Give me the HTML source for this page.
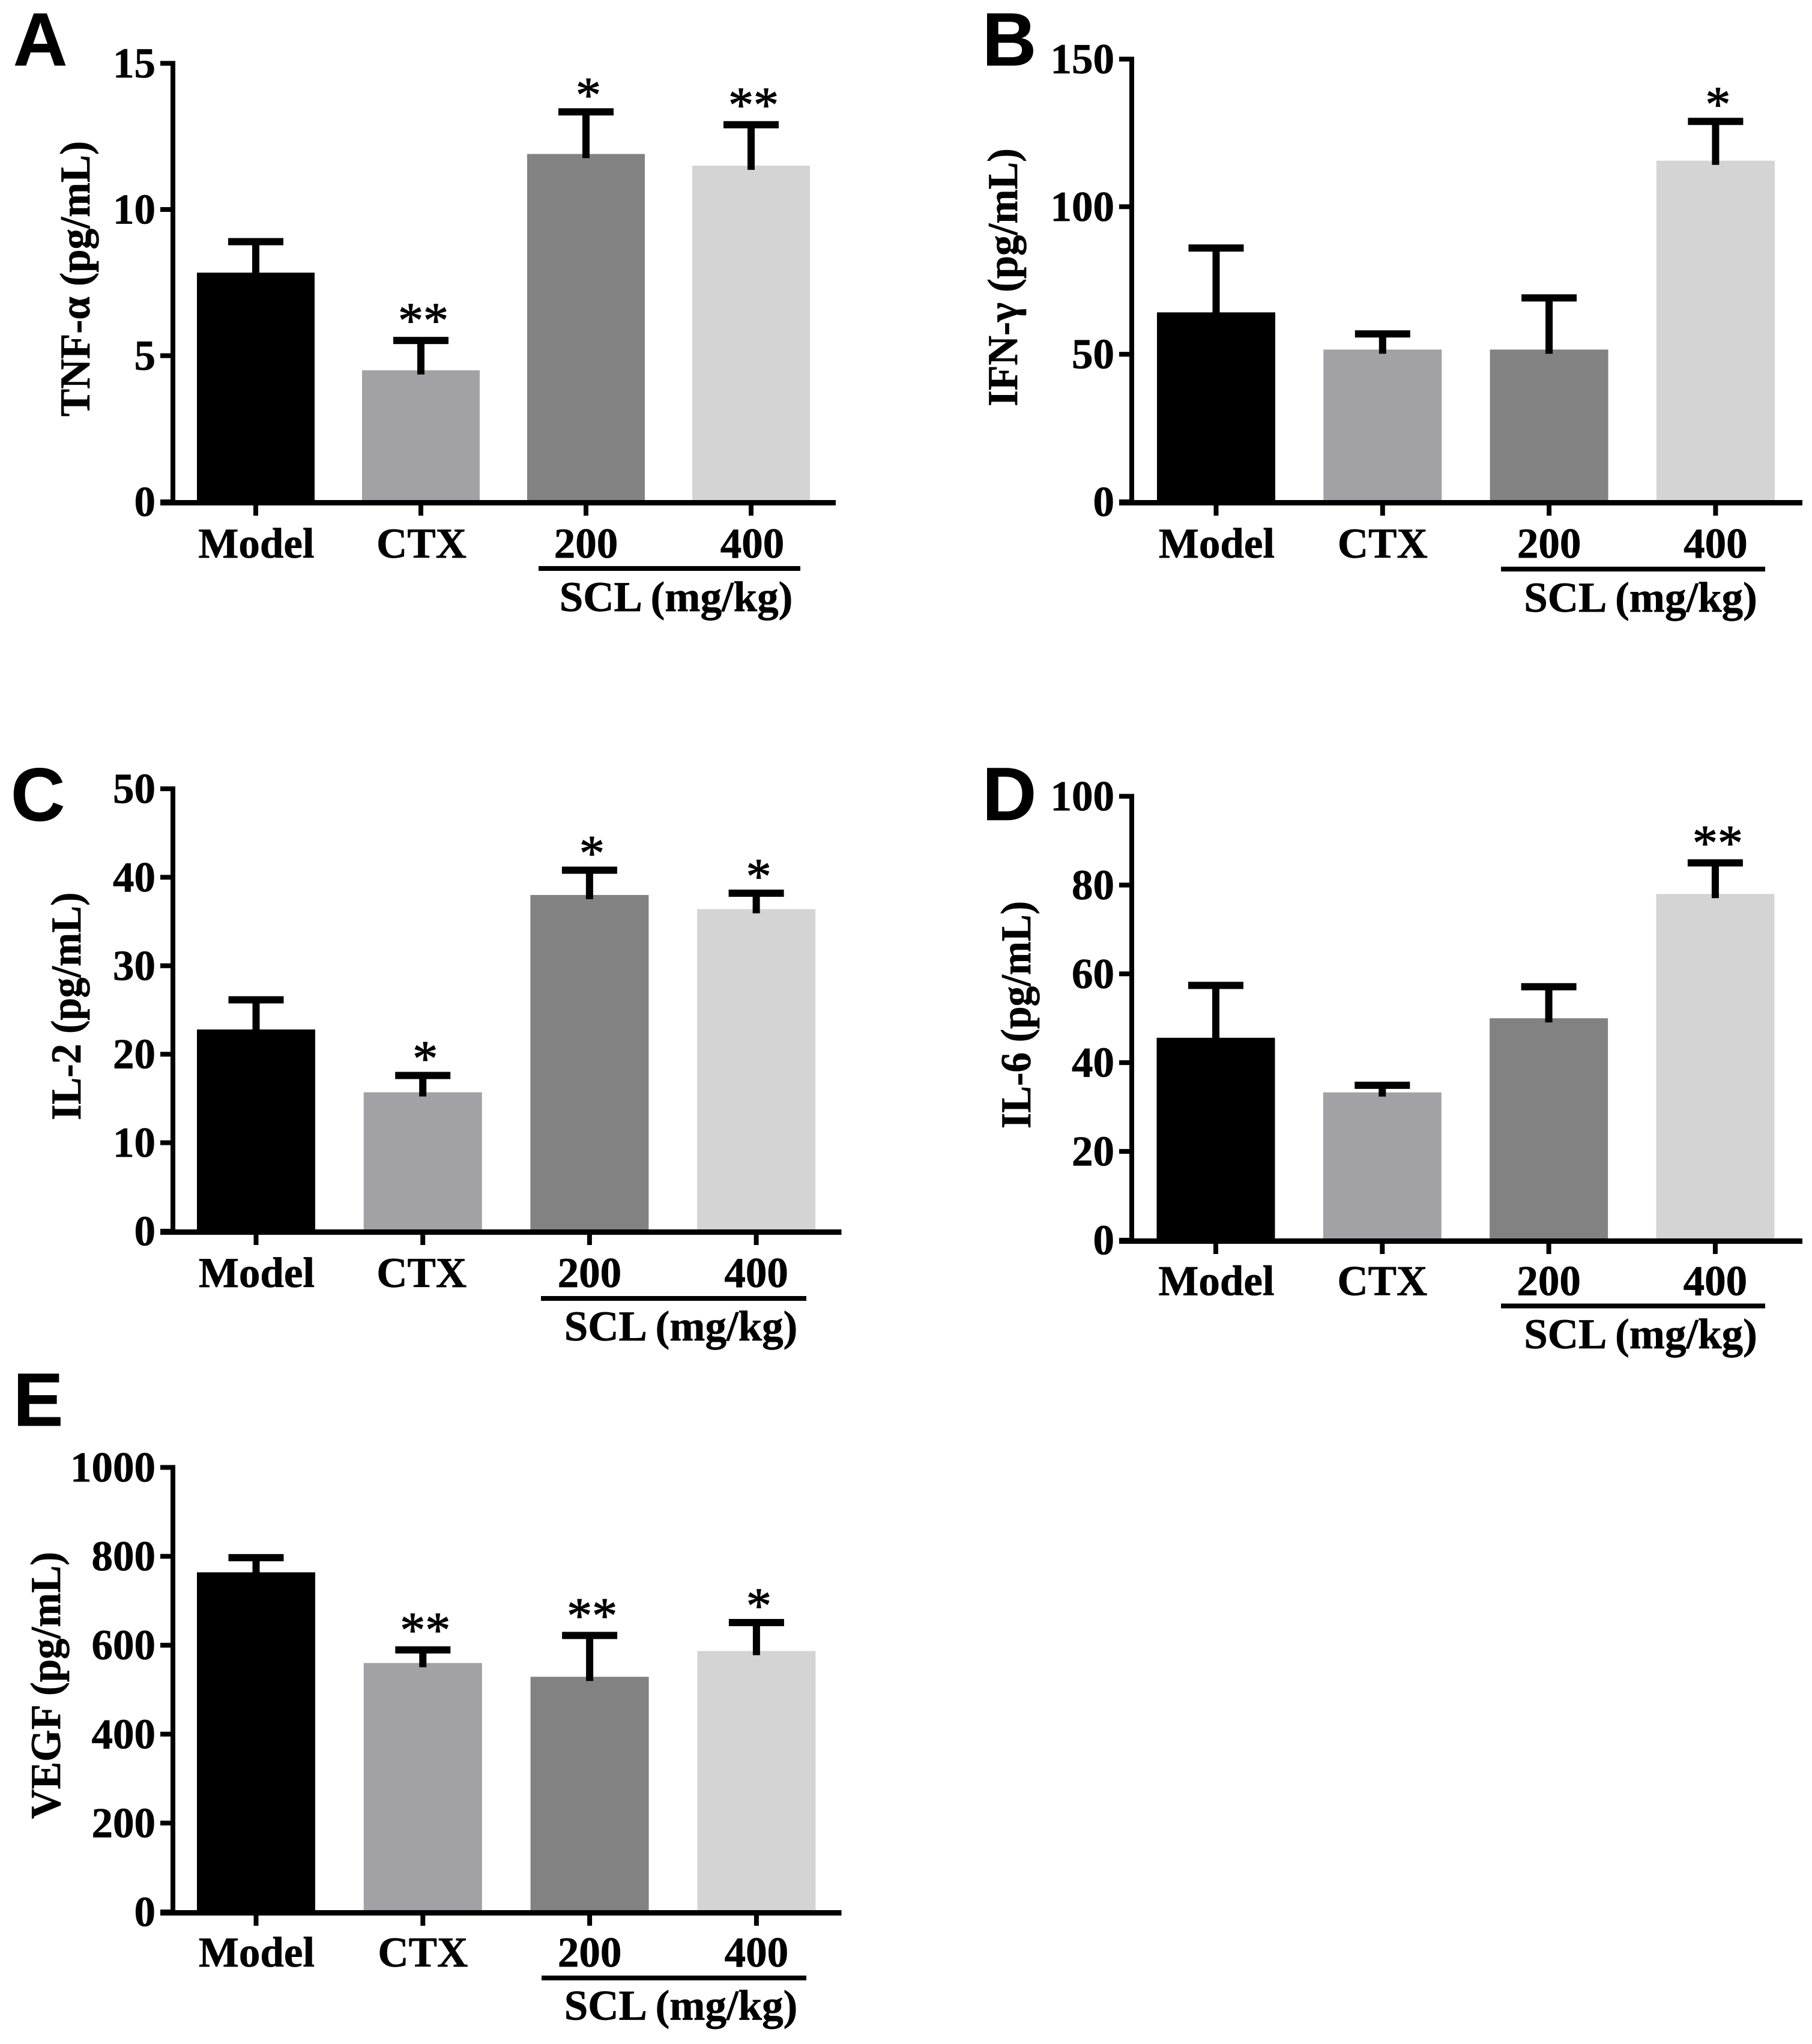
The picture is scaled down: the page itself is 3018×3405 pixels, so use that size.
<!DOCTYPE html>
<html lang="en">
<head>
<meta charset="utf-8">
<title>Cytokine levels bar charts</title>
<style>
html,body{margin:0;padding:0;background:#fff;}
svg{display:block;}
text{font-family:"Liberation Serif",serif;font-weight:bold;fill:#000;stroke:#000;stroke-width:0.7px;}
</style>
</head>
<body>
<svg id="figure" xmlns="http://www.w3.org/2000/svg" width="3018" height="3405" viewBox="0 0 3018 3405"></svg>
<script>
// ---------- shared categories ----------
const categories = ['Model', 'CTX', '200', '400'];
const groupLabel = 'SCL (mg/kg)';

// ---------- panel A: TNF-alpha ----------
const tnfTicks = ['0', '5', '10', '15'];
const tnfValues = [7.84, 4.5, 11.9, 11.5];
const tnfErrors = [1.06, 1.02, 1.44, 1.4];
const tnfMarks = ['', '**', '*', '**'];

// ---------- panel B: IFN-gamma ----------
const ifnTicks = ['0', '50', '100', '150'];
const ifnValues = [64.2, 51.6, 51.6, 115.6];
const ifnErrors = [21.8, 5.3, 17.5, 13.3];
const ifnMarks = ['', '', '', '*'];

// ---------- panel C: IL-2 ----------
const il2Ticks = ['0', '10', '20', '30', '40', '50'];
const il2Values = [22.8, 15.7, 38.0, 36.4];
const il2Errors = [3.35, 1.9, 2.8, 1.8];
const il2Marks = ['', '*', '*', '*'];

// ---------- panel D: IL-6 ----------
const il6Ticks = ['0', '20', '40', '60', '80', '100'];
const il6Values = [45.6, 33.3, 50, 78];
const il6Errors = [11.8, 1.6, 7.1, 7];
const il6Marks = ['', '', '', '**'];

// ---------- panel E: VEGF ----------
const vegfTicks = ['0', '200', '400', '600', '800', '1000'];
const vegfValues = [764, 560, 529, 587];
const vegfErrors = [33, 29.5, 93, 64];
const vegfMarks = ['', '**', '**', '*'];

// ---------- layout (not data) ----------
const barColors = ['#000000', '#a2a2a6', '#828282', '#d4d4d4'];
const panels = [
  {key:'tnf', letter:'A', lx:22, ly:109, title:'TNF-α (pg/mL)', tb:149, t0:235, t1:694,
   ticks:tnfTicks, values:tnfValues, errors:tnfErrors, marks:tnfMarks,
   ax:288, top:105.5, zero:836, right:1392, c0:426, step:275, bw:196,
   catBase:929, lineY:947, line0:897, line1:1333, grpX:1126, grpBase:1018, catDx:[1,1,0,2]},
  {key:'ifn', letter:'B', lx:1636, ly:109, title:'IFN-γ (pg/mL)', tb:1694, t0:247, t1:677,
   ticks:ifnTicks, values:ifnValues, errors:ifnErrors, marks:ifnMarks,
   ax:1885, top:98.5, zero:836, right:3002, c0:2025.5, step:277.3, bw:197,
   catBase:929, lineY:948, line0:2500, line1:2940, grpX:2732.5, grpBase:1019, catDx:[1,0,0,0]},
  {key:'il2', letter:'C', lx:18, ly:1367, title:'IL-2 (pg/mL)', tb:134, t0:1486.5, t1:1866,
   ticks:il2Ticks, values:il2Values, errors:il2Errors, marks:il2Marks,
   ax:288, top:1314, zero:2051, right:1401.5, c0:426.5, step:277.7, bw:197,
   catBase:2144, lineY:2163, line0:901, line1:1343, grpX:1134, grpBase:2233, catDx:[1,-2,0,0]},
  {key:'il6', letter:'D', lx:1636, ly:1366, title:'IL-6 (pg/mL)', tb:1716, t0:1501, t1:1880,
   ticks:il6Ticks, values:il6Values, errors:il6Errors, marks:il6Marks,
   ax:1885, top:1326.5, zero:2066, right:3002, c0:2025, step:277.3, bw:197,
   catBase:2157.5, lineY:2175.5, line0:2500, line1:2940, grpX:2732.5, grpBase:2246, catDx:[1,0,0,0]},
  {key:'vegf', letter:'E', lx:22, ly:2375, title:'VEGF (pg/mL)', tb:100, t0:2585, t1:3030,
   ticks:vegfTicks, values:vegfValues, errors:vegfErrors, marks:vegfMarks,
   ax:288, top:2444.5, zero:3185, right:1401.5, c0:426.5, step:277.8, bw:197,
   catBase:3276, lineY:3295, line0:902, line1:1343, grpX:1134, grpBase:3364.5, catDx:[1,0,0,0]}
];

const NS = 'http://www.w3.org/2000/svg';
const fig = document.getElementById('figure');

function make(parent, tag, props, content) {
  const node = document.createElementNS(NS, tag);
  for (const k in props) node.setAttribute(k, props[k]);
  if (content !== undefined) node.textContent = content;
  parent.appendChild(node);
  return node;
}

panels.forEach(function (p) {
  const maxV = parseFloat(p.ticks[p.ticks.length - 1]);
  const yScale = function (v) { return p.zero - (v / maxV) * (p.zero - p.top); };
  const xScale = function (i) { return p.c0 + i * p.step; };

  const g = make(fig, 'g', {});
  
  

  const letter = make(g, 'text', {x: p.lx, y: p.ly, 'font-size': 125, style: 'font-family:"Liberation Sans",sans-serif;font-weight:bold'}, p.letter);
  
  

  // bars
  p.values.forEach(function (v, i) {
    const bar = make(g, 'rect', {x: xScale(i) - p.bw / 2, y: yScale(v), width: p.bw, height: p.zero - yScale(v), fill: barColors[i]});
    
    
  });

  // error bars
  p.values.forEach(function (v, i) {
    const yHi = yScale(v + p.errors[i]);
    const stem = make(g, 'rect', {x: xScale(i) - 6, y: yHi, width: 12, height: yScale(v) + 7 - yHi, fill: '#000'});
    
    
    const cap = make(g, 'rect', {x: xScale(i) - 46, y: yHi - 6, width: 92, height: 12, fill: '#000'});
    
    
    if (p.marks[i]) {
      const two = p.marks[i].length > 1;
      const mark = make(g, 'text', {x: xScale(i) + 4, y: yHi - (two ? 47.5 : 42.5) + 42, 'font-size': 84, 'text-anchor': 'middle', style: 'font-weight:normal;stroke-width:1.2px'}, p.marks[i]);
      
      
    }
  });

  // y axis
  const yAxis = make(g, 'rect', {x: p.ax - 4, y: p.top - 4, width: 8, height: p.zero - p.top + 8, fill: '#000'});
  
  
  p.ticks.forEach(function (t) {
    const v = parseFloat(t);
    const tick = make(g, 'rect', {x: p.ax - 21, y: yScale(v) - 4, width: 21, height: 8, fill: '#000'});
    
    
    const label = make(g, 'text', {x: p.ax - 29, y: yScale(v) + 23.5, 'font-size': 71, 'text-anchor': 'end'}, t);
    
    
  });

  // x axis
  const xAxis = make(g, 'rect', {x: p.ax - 21, y: p.zero - 3, width: p.right - p.ax + 21, height: 9, fill: '#000'});
  
  
  categories.forEach(function (c, i) {
    const tick = make(g, 'rect', {x: xScale(i) - 4, y: p.zero, width: 8, height: 23, fill: '#000'});
    
    
    const label = make(g, 'text', {x: xScale(i) + p.catDx[i], y: p.catBase, 'font-size': 71, 'text-anchor': 'middle'}, c);
    
    
  });

  // dose group bracket
  const line = make(g, 'rect', {x: p.line0, y: p.lineY - 4, width: p.line1 - p.line0, height: 8, fill: '#000'});
  
  
  const grp = make(g, 'text', {x: p.grpX, y: p.grpBase, 'font-size': 71, 'text-anchor': 'middle'}, groupLabel);
  
  

  // y title
  const midY = (p.t0 + p.t1) / 2;
  const title = make(g, 'text', {x: 0, y: 0, 'font-size': 71, 'text-anchor': 'middle', transform: 'translate(' + p.tb + ' ' + midY + ') rotate(-90)', textLength: p.t1 - p.t0, lengthAdjust: 'spacingAndGlyphs'}, p.title);
  
  
});
</script>
</body>
</html>
